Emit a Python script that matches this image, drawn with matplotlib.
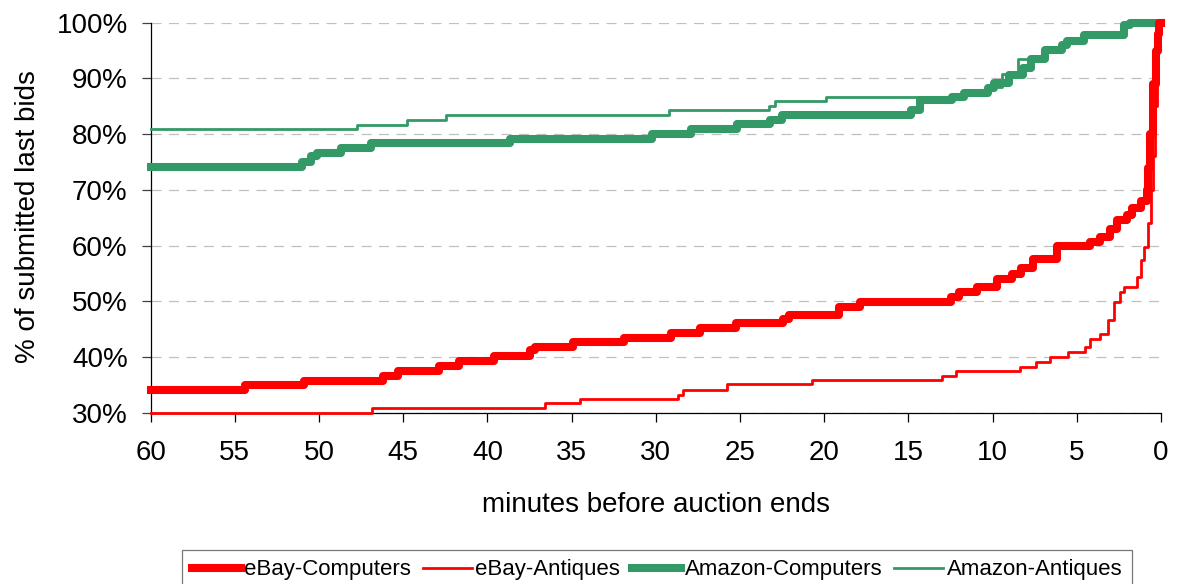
import matplotlib
matplotlib.use("Agg")
import matplotlib.pyplot as plt
from matplotlib.ticker import FuncFormatter

plt.rcParams['font.family'] = ['Liberation Sans', 'DejaVu Sans']

# ---- data (minutes before end, % of submitted last bids) ----
ebay_comp_x = [60, 54.4, 50.9, 46.2, 45.3, 42.9, 41.7, 39.6, 37.5, 37.2, 34.9, 31.9,
               29.1, 27.35, 25.25, 22.45, 22.1, 19.1, 17.9, 12.5, 12.0, 10.9, 9.75,
               8.85, 8.3, 7.6, 6.2, 4.2, 3.6, 3.0, 2.6, 2.0, 1.7, 1.2, 0.85, 0.75,
               0.65, 0.45, 0.3, 0.2, 0.1, 0]
ebay_comp_y = [34.1, 35.0, 35.7, 36.6, 37.5, 38.3, 39.2, 40.2, 41.3, 41.8, 42.6, 43.4,
               44.3, 45.2, 46.0, 46.8, 47.6, 49.0, 49.9, 50.8, 51.6, 52.5, 54.0,
               54.9, 55.9, 57.5, 60.0, 60.7, 61.5, 63.0, 64.5, 65.5, 66.8, 68.0, 70.0,
               74.0, 80.0, 89.0, 95.0, 98.0, 100, 100]

ebay_ant_x = [60, 46.85, 36.6, 34.5, 28.7, 28.4, 25.8, 20.75, 13.0, 12.15, 8.4, 7.45,
              6.6, 5.5, 4.5, 4.2, 3.6, 3.15, 2.8, 2.45, 2.2, 1.44, 1.2, 1.0, 0.8, 0.6,
              0.45, 0.35, 0.25, 0.15, 0.05, 0]
ebay_ant_y = [30.0, 30.8, 31.7, 32.4, 33.2, 34.1, 35.1, 35.8, 36.6, 37.4, 38.2, 39.1,
              40.0, 40.9, 41.8, 43.3, 44.2, 46.6, 49.9, 51.7, 52.6, 54.4, 57.4, 59.8,
              64.0, 70.0, 76.0, 85.0, 92.0, 97.0, 100, 100]

amz_comp_x = [60, 51.0, 50.45, 50.1, 48.7, 46.9, 38.65, 30.2, 27.9, 25.2, 23.2, 22.5,
              14.85, 14.3, 12.4, 11.7, 10.3, 9.9, 9.05, 8.2, 7.7, 6.9, 5.9, 5.6, 4.6,
              2.2, 1.85, 0]
amz_comp_y = [74.1, 75.0, 76.1, 76.6, 77.5, 78.4, 79.2, 80.1, 81.0, 81.9, 82.5, 83.5,
              84.3, 86.1, 86.7, 87.4, 88.2, 89.2, 90.6, 91.8, 93.4, 95.1, 96.0, 96.8,
              97.8, 99.6, 100, 100]

amz_ant_x = [60, 47.75, 44.8, 42.45, 29.2, 23.3, 22.9, 19.9, 11.7, 10.2, 9.45, 8.5,
             6.9, 5.9, 5.6, 4.6, 2.2, 1.85, 0]
amz_ant_y = [80.9, 81.7, 82.5, 83.4, 84.3, 85.0, 85.9, 86.7, 87.6, 88.5, 90.8, 93.4,
             95.1, 96.0, 96.8, 97.8, 99.6, 100, 100]

series_names = ['eBay-Computers', 'eBay-Antiques', 'Amazon-Computers', 'Amazon-Antiques']
x_ticks = [60, 55, 50, 45, 40, 35, 30, 25, 20, 15, 10, 5, 0]
y_ticks = [30, 40, 50, 60, 70, 80, 90, 100]

RED = '#FF0000'
GREEN = '#339966'

fig = plt.figure(figsize=(11.77, 5.84), dpi=100)
ax = fig.add_axes([0.128, 0.2935, 0.8584, 0.6676])

common = dict(drawstyle='steps-post', solid_joinstyle='round', clip_on=False)
l3, = ax.plot(amz_comp_x, amz_comp_y, color=GREEN, lw=5.8, zorder=3,
              label=series_names[2], **common)
l4, = ax.plot(amz_ant_x, amz_ant_y, color=GREEN, lw=2.0, zorder=4,
              label=series_names[3], **common)
l1, = ax.plot(ebay_comp_x, ebay_comp_y, color=RED, lw=5.8, zorder=5,
              label=series_names[0], **common)
l2, = ax.plot(ebay_ant_x, ebay_ant_y, color=RED, lw=2.0, zorder=6,
              label=series_names[1], **common)

ax.set_xlim(60, 0)
ax.set_ylim(30, 100)
ax.set_xticks(x_ticks)
ax.set_yticks(y_ticks)
ax.yaxis.set_major_formatter(FuncFormatter(lambda v, p: f"{int(v)}%"))

ax.grid(axis='y', color='#c0c0c0', linewidth=0.9, linestyle=(0, (8, 6)))
ax.set_axisbelow(True)
for s in ['top', 'right']:
    ax.spines[s].set_visible(False)
for s in ['left', 'bottom']:
    ax.spines[s].set_color('black')
    ax.spines[s].set_linewidth(0.9)

ax.tick_params(axis='y', direction='out', length=6.5, width=0.9, color='#404040',
               labelsize=20, pad=10)
ax.tick_params(axis='x', direction='out', length=6.5, width=0.9, color='black',
               labelsize=20, pad=13)

ax.set_xlabel('minutes before auction ends', fontsize=20)
ax.xaxis.label.set_va('center')
ax.xaxis.set_label_coords(0.5, -0.237)
ax.set_ylabel('% of submitted last bids', fontsize=20)
ax.yaxis.label.set_va('center')
ax.yaxis.set_label_coords(-0.121, 0.504)

leg = fig.legend(handles=[l1, l2, l3, l4], labels=series_names, ncol=4,
                 loc='upper left', bbox_to_anchor=(182.3 / 1177, 1 - 550 / 584),
                 borderaxespad=0, fontsize=16, frameon=True, fancybox=False,
                 handlelength=2.2, handletextpad=0.15, columnspacing=0.55,
                 borderpad=0.42)
leg.get_frame().set_edgecolor('#555555')
leg.get_frame().set_linewidth(0.9)

fig.savefig('out.png', dpi=100)
